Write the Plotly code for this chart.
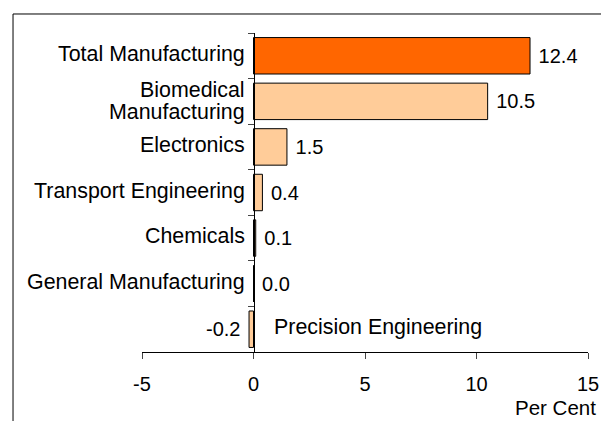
import plotly.graph_objects as go

# data
sectors = ['Total Manufacturing', 'Biomedical Manufacturing', 'Electronics',
           'Transport Engineering', 'Chemicals', 'General Manufacturing',
           'Precision Engineering']
growth = [12.4, 10.5, 1.5, 0.4, 0.1, 0.0, -0.2]
x_ticks = [-5, 0, 5, 10, 15]
x_ticktext = ['-5', '0', '5', '10', '15']

FONT = 'Arial, Liberation Sans, sans-serif'
LBL = 21.4
colors = ['#FF6600'] + ['#FFCC99'] * (len(sectors) - 1)

fig = go.Figure()
fig.add_trace(go.Bar(
    y=sectors, x=growth, orientation='h',
    marker=dict(color=colors, line=dict(color='black', width=1)),
    text=[f' {v:.1f}' if v >= 0 else f'{v:.1f} ' for v in growth], textposition='outside',
    textfont=dict(family=FONT, size=20, color='black'),
    cliponaxis=False, showlegend=False,
))

# category labels (Precision Engineering sits inside the plot, right of the axis)
for s, v in zip(sectors, growth):
    if v < 0:
        fig.add_annotation(x=0, y=s, xref='x', yref='y', text=s, showarrow=False,
                           xanchor='left', xshift=18, yshift=2,
                           font=dict(family=FONT, size=LBL, color='black'))
    elif s == 'Biomedical Manufacturing':
        for part, dy in zip(s.split(' '), [11, -11]):
            fig.add_annotation(x=0, y=s, xref='x', yref='y', text=part, showarrow=False,
                               xanchor='right', xshift=-7, yshift=dy,
                               font=dict(family=FONT, size=LBL, color='black'))
    else:
        fig.add_annotation(x=0, y=s, xref='x', yref='y', text=s, showarrow=False,
                           xanchor='right', xshift=-7, yshift=2,
                           font=dict(family=FONT, size=LBL, color='black'))

fig.add_annotation(x=1.0224, y=-0.175, xref='paper', yref='paper', text='Per Cent',
                   showarrow=False, xanchor='right', yanchor='middle',
                   font=dict(family=FONT, size=20.5, color='black'))

# outer frame (only left and top edges are visible in the crop)
fig.add_shape(type='rect', xref='paper', yref='paper', x0=-0.2892, x1=1.3, y0=-0.5, y1=1.0596,
              line=dict(color='black', width=1), layer='below')

fig.update_xaxes(range=[-5, 15], tickvals=x_ticks, ticktext=x_ticktext, ticks='outside', ticklen=6,
                 showline=True, linecolor='black', linewidth=1, showgrid=False,
                 zeroline=False, ticklabelstandoff=8, automargin=False,
                 tickfont=dict(family=FONT, size=20, color='black'))
fig.update_yaxes(autorange='reversed', anchor='free', position=(0 + 5) / 20,
                 ticks='outside', ticklen=6, tickson='boundaries', showticklabels=False,
                 showline=True, linecolor='black', linewidth=1, showgrid=False,
                 automargin=False)

fig.update_layout(width=601, height=421, autosize=False, margin=dict(l=142, r=13, t=33, b=69),
                  plot_bgcolor='white', paper_bgcolor='white', bargap=0.2,
                  font=dict(family=FONT, size=20, color='black'))

# fixed size page: no body margin, no scrollbars, no resizing
fig.write_html('out.html',
               config={'responsive': False, 'displayModeBar': False},
               post_script="document.body.style.margin='0';document.body.style.overflow='hidden';")
